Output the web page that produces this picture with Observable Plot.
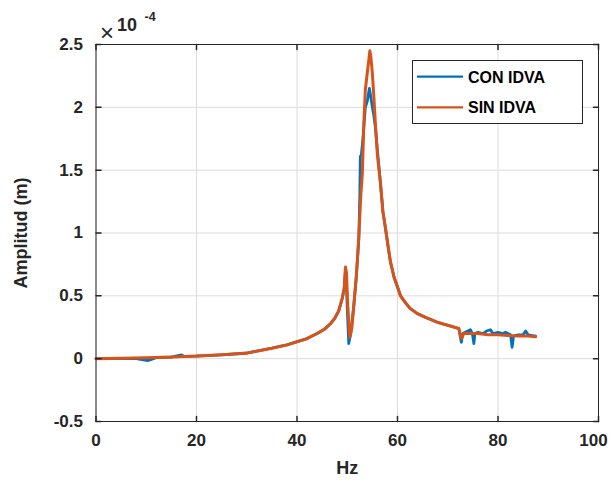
<!DOCTYPE html>
<html>
<head>
<meta charset="utf-8">
<script src="https://cdn.jsdelivr.net/npm/d3@7"></script>
<script src="https://cdn.jsdelivr.net/npm/@observablehq/plot@0.6"></script>
<style>
  html, body { margin: 0; padding: 0; background: #fff; }
  #wrap { position: relative; width: 609px; height: 485px; font-family: "Liberation Sans", Arial, sans-serif; }
  #legend { position: absolute; left: 412px; top: 60px; }
</style>
</head>
<body>
<div id="wrap"><div id="chart"></div><div id="legend"></div></div>
<script>
// ---- data (amplitude in units of 1e-4 m) ----
const conHz = [0,5,8,10.3,12,15,17,17.6,20,25, 30,35,38,40,42,44,45.5,46.7,47.5,48.3, 49.0,49.4,49.6,49.8,50.0,50.3,50.7,51.3,51.8,52.3, 52.5,52.6,52.8,53.0,53.2,53.6,54.0,54.4,54.7,55.0, 55.3,55.6,56.0,56.6,57.1,57.6,58.1,58.6,59.3,60.0, 60.6,61.5,62.5,63.9,65.5,67.9,70.5,72.2,72.7,73.0, 73.5,74.0,74.5,74.9,75.2,75.4,76,77,77.7,78.5, 79,80,81,81.5,82.5,82.8,83.1,84,85,85.5, 86,87.5];
const conAmp = [0,0.003,0.0,-0.015,0.008,0.012,0.03,0.018,0.02,0.03, 0.045,0.083,0.11,0.135,0.16,0.2,0.235,0.28,0.32,0.38, 0.48,0.56,0.68,0.64,0.4,0.12,0.2,0.42,0.65,0.95, 1.3,1.61,1.62,1.7,1.79,2.0,2.05,2.15,2.08,2.0, 1.93,1.84,1.66,1.40,1.17,1.04,0.9,0.77,0.65,0.57, 0.5,0.45,0.4,0.36,0.33,0.29,0.26,0.24,0.13,0.2, 0.21,0.22,0.23,0.2,0.12,0.2,0.21,0.2,0.22,0.23, 0.2,0.21,0.2,0.21,0.19,0.09,0.18,0.19,0.19,0.22, 0.19,0.18];
const sinHz = [0,5,10,15,20,25,30,35,38,40, 42,44,45.5,46.7,47.5,48.3,49.0,49.4,49.65,49.85, 50.1,50.5,50.9,51.3,51.8,52.3,52.7,53.0,53.3,53.6, 54.0,54.3,54.5,54.7,55.0,55.3,55.6,56.0,56.6,57.1, 57.6,58.1,58.6,59.3,60.0,60.6,61.5,62.5,63.9,65.5, 67.9,70.5,72.2,72.7,73.2,74,76,78,80,82, 84,86,87.5];
const sinAmp = [0,0.004,0.008,0.013,0.021,0.031,0.044,0.083,0.11,0.134, 0.16,0.2,0.235,0.28,0.32,0.38,0.48,0.56,0.73,0.68, 0.42,0.17,0.24,0.42,0.65,0.97,1.30,1.47,1.87,2.14, 2.28,2.38,2.45,2.40,2.27,2.08,1.87,1.62,1.40,1.17, 1.04,0.9,0.77,0.65,0.57,0.5,0.45,0.4,0.36,0.33, 0.29,0.26,0.24,0.16,0.2,0.2,0.2,0.19,0.19,0.185, 0.18,0.18,0.175];

const seriesNames = ["CON IDVA", "SIN IDVA"];
const seriesColors = ["#0072BD", "#D95319"];
const xTicks = [0, 20, 40, 60, 80, 100];
const xTickLabels = ["0", "20", "40", "60", "80", "100"];
const yTicks = [-0.5, 0, 0.5, 1, 1.5, 2, 2.5];
const yTickLabels = ["-0.5", "0", "0.5", "1", "1.5", "2", "2.5"];
const xLabel = "Hz";
const yLabel = "Amplitud (m)";
const expBase = "10";
const expPower = "-4";

// ---- build rows ----
const conRows = conHz.map((hz, i) => ({hz, amp: conAmp[i], serie: seriesNames[0]}));
const sinRows = sinHz.map((hz, i) => ({hz, amp: sinAmp[i], serie: seriesNames[1]}));

const xDomain = [xTicks[0], xTicks[xTicks.length - 1]];
const yDomain = [yTicks[0], yTicks[yTicks.length - 1]];
const tickShape = {draw(context, l) { context.moveTo(0, 0); context.lineTo(0, -l); }};
const axisColor = "#262626";
const font = "'Liberation Sans', Arial, sans-serif";
const xFmt = d => xTickLabels[xTicks.indexOf(d)];

const chart = Plot.plot({
  width: 609,
  height: 485,
  marginLeft: 95.5,
  marginRight: 11,
  marginTop: 44,
  marginBottom: 64,
  style: {fontFamily: font, background: "#fff", overflow: "visible"},
  x: {domain: xDomain},
  y: {domain: yDomain},
  marks: [
    Plot.gridX(xTicks, {stroke: "#dcdcdc", strokeOpacity: 1}),
    Plot.gridY(yTicks, {stroke: "#dcdcdc", strokeOpacity: 1}),
    Plot.line(conRows, {x: "hz", y: "amp", stroke: seriesColors[0], strokeWidth: 2.8, strokeLinejoin: "round"}),
    Plot.line(sinRows, {x: "hz", y: "amp", stroke: seriesColors[1], strokeWidth: 3, strokeLinejoin: "round"}),
    Plot.frame({stroke: axisColor, strokeWidth: 1}),
    // inward ticks
    Plot.vector(xTicks, {x: d => d, y: yDomain[0], length: 5, rotate: 0, anchor: "start", shape: tickShape, stroke: axisColor}),
    Plot.vector(xTicks, {x: d => d, y: yDomain[1], length: 5, rotate: 180, anchor: "start", shape: tickShape, stroke: axisColor}),
    Plot.vector(yTicks, {y: d => d, x: xDomain[0], length: 5, rotate: 90, anchor: "start", shape: tickShape, stroke: axisColor}),
    Plot.vector(yTicks, {y: d => d, x: xDomain[1], length: 5, rotate: -90, anchor: "start", shape: tickShape, stroke: axisColor}),
    // tick labels
    Plot.axisX(xTicks.slice(0, -1), {tickSize: 0, tickPadding: 12, fontSize: 17, fontWeight: "bold", fill: axisColor, label: null, tickFormat: xFmt}),
    Plot.axisX(xTicks.slice(-1), {tickSize: 0, tickPadding: 12, fontSize: 17, fontWeight: "bold", fill: axisColor, label: null, tickFormat: xFmt, dx: -5}),
    Plot.axisY(yTicks, {tickSize: 0, tickPadding: 13, fontSize: 17, fontWeight: "bold", fill: axisColor, label: null,
      tickFormat: d => yTickLabels[yTicks.indexOf(d)]}),
    // axis titles
    Plot.text([xLabel], {frameAnchor: "bottom", textAnchor: "middle", dy: 47, fontSize: 18, fontWeight: "bold", fill: axisColor, lineAnchor: "middle"}),
    Plot.text([yLabel], {frameAnchor: "left", textAnchor: "middle", dx: -75, rotate: -90, fontSize: 18, fontWeight: "bold", fill: axisColor, lineAnchor: "middle"}),
    // exponent
    Plot.text(["\u00D7"], {frameAnchor: "top-left", dx: 11, dy: -11, fontSize: 24, fontWeight: "normal", fill: axisColor, textAnchor: "middle", lineAnchor: "middle"}),
    Plot.text([expBase], {frameAnchor: "top-left", dx: 21, dy: -14, fontSize: 18, fontWeight: "bold", fill: axisColor, textAnchor: "start", lineAnchor: "bottom"}),
    Plot.text([expPower], {frameAnchor: "top-left", dx: 48.5, dy: -23.5, fontSize: 12.5, fontWeight: "bold", fill: axisColor, textAnchor: "start", lineAnchor: "bottom"})
  ]
});
document.getElementById("chart").appendChild(chart);

// ---- legend ----
const lw = 171, lh = 64;
const svgNS = "http://www.w3.org/2000/svg";
const lsvg = document.createElementNS(svgNS, "svg");
lsvg.setAttribute("width", lw);
lsvg.setAttribute("height", lh);
const box = document.createElementNS(svgNS, "rect");
box.setAttribute("x", 0.5); box.setAttribute("y", 0.5);
box.setAttribute("width", lw - 1); box.setAttribute("height", lh - 1);
box.setAttribute("fill", "#fff"); box.setAttribute("stroke", axisColor);
lsvg.appendChild(box);
seriesNames.forEach((name, i) => {
  const cy = 16.7 + i * 30.6;
  const ln = document.createElementNS(svgNS, "line");
  ln.setAttribute("x1", 5); ln.setAttribute("x2", 51);
  ln.setAttribute("y1", cy); ln.setAttribute("y2", cy);
  ln.setAttribute("stroke", seriesColors[i]); ln.setAttribute("stroke-width", 2.2);
  lsvg.appendChild(ln);
  const t = document.createElementNS(svgNS, "text");
  t.setAttribute("x", 56); t.setAttribute("y", cy + 6);
  t.setAttribute("font-family", font); t.setAttribute("font-size", 16);
  t.setAttribute("font-weight", "bold"); t.setAttribute("fill", "#000");
  t.textContent = name;
  lsvg.appendChild(t);
});
document.getElementById("legend").appendChild(lsvg);
</script>
</body>
</html>
